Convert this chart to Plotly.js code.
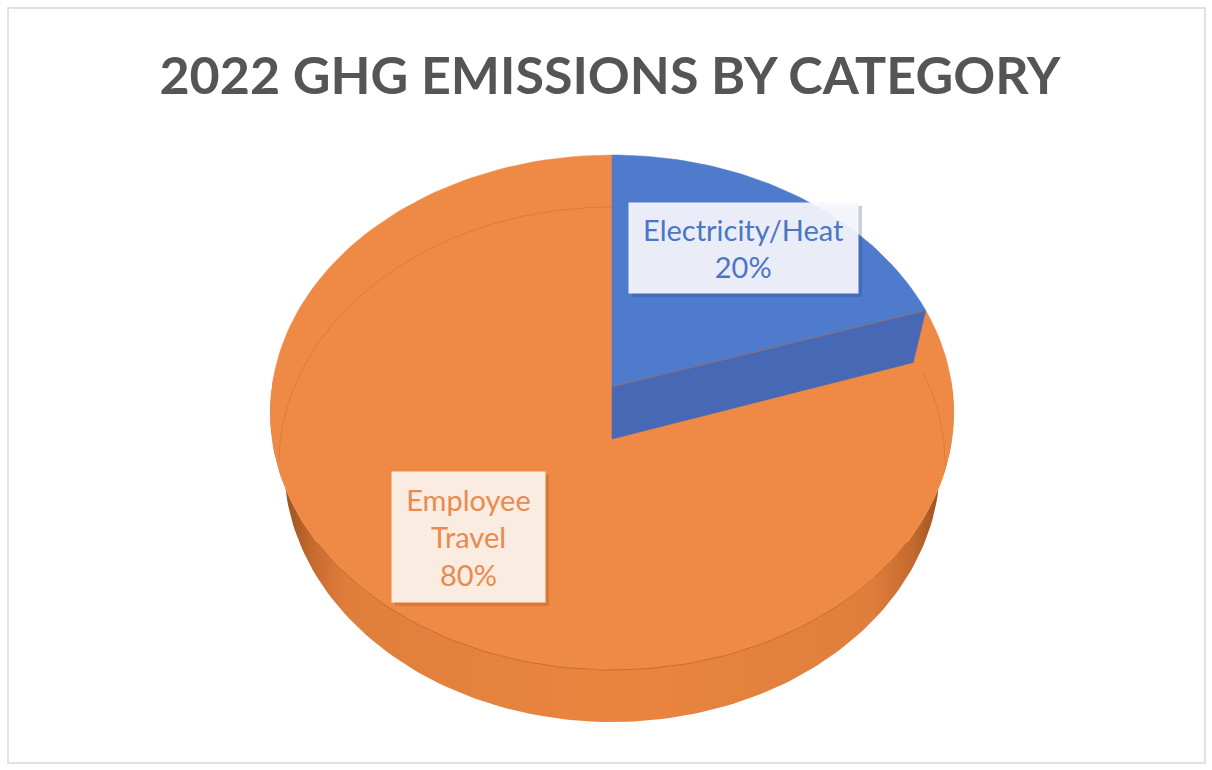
<!DOCTYPE html>
<html>
<head>
<meta charset="utf-8">
<script src="https://cdn.plot.ly/plotly-3.0.1.min.js"></script>
<style>html,body{margin:0;padding:0;background:#fff;}#chart{width:1212px;height:770px;}</style>
</head>
<body>
<div id="chart"></div>
<script>
// ---- data ----
const chartTitle = '2022 GHG EMISSIONS BY CATEGORY';
const categories = ['Electricity/Heat', 'Employee Travel'];
const values = [20, 80];

// ---- style / geometry (pixel-like axes) ----
const W = 1212, H = 770;
const CX = 612, CY = 387;      // projected centre of top face
const A = 340, B = 255, K = 0.099; // perspective ellipse parameters
const DEPTH = 52;              // thickness of the pie
const BOT_SHRINK = 0.96;
const topColors = ['#4E7BCB', '#EE8A46'];
const cutColors = ['#4768B4', '#D9773A'];
const textColors = ['#4A76C4', '#E98A4E'];
const boxColors = ['rgba(246,248,253,0.93)', 'rgba(253,244,238,0.93)'];

function proj(deg, bottom, shrink) {
  const t = deg * Math.PI / 180;
  const u = Math.sin(t), v = Math.cos(t);
  const w = 1 + K * v;
  const a = bottom ? A * (shrink || BOT_SHRINK) : A;
  return [CX + a * u / w, (bottom ? CY + DEPTH : CY) - B * v / w];
}
function arc(d0, d1, bottom, n, shrink) {
  const xs = [], ys = [];
  for (let i = 0; i <= n; i++) {
    const p = proj(d0 + (d1 - d0) * i / n, bottom, shrink);
    xs.push(p[0]); ys.push(p[1]);
  }
  return [xs, ys];
}

const total = values.reduce((s, v) => s + v, 0);
const angles = [];
let acc = 0;
values.forEach(v => { angles.push([acc / total * 360, (acc + v) / total * 360]); acc += v; });

const traces = [];
const base = {type: 'scatter', mode: 'lines', hoverinfo: 'skip', showlegend: false};

// side wall with horizontal shading
{
  const top = arc(88, 272, false, 140);
  const bot = arc(272, 88, true, 140);
  traces.push(Object.assign({}, base, {
    x: top[0].concat(bot[0]), y: top[1].concat(bot[1]),
    fill: 'toself', line: {width: 0},
    fillgradient: {
      type: 'horizontal',
      colorscale: [
        [0, '#7A3E14'], [0.02, '#9A5220'], [0.06, '#C46A2E'], [0.11, '#E07E3C'],
        [0.5, '#E9853F'],
        [0.88, '#E07E3C'], [0.94, '#C46A2E'], [0.98, '#9A5220'], [1, '#7A3E14']
      ]
    }
  }));
}

// orange top face (slice 2)
{
  const a = arc(angles[1][0], angles[1][1], false, 160);
  traces.push(Object.assign({}, base, {
    x: [CX].concat(a[0], [CX]), y: [CY].concat(a[1], [CY]),
    fill: 'toself', fillcolor: topColors[1], line: {color: topColors[1], width: 0.5}
  }));
}
// faint bevel line inside orange face
{
  const a1 = arc(265, 360, true, 60, 0.975);
  traces.push(Object.assign({}, base, {x: a1[0], y: a1[1], line: {color: 'rgba(190,95,35,0.35)', width: 1}}));
  const a2 = arc(angles[1][0] + 2, 96, true, 20, 0.975);
  traces.push(Object.assign({}, base, {x: a2[0], y: a2[1], line: {color: 'rgba(190,95,35,0.35)', width: 1}}));
}
// near edge of top face
{
  const a = arc(125, 235, false, 70);
  traces.push(Object.assign({}, base, {x: a[0], y: a[1], line: {color: 'rgba(170,80,28,0.6)', width: 1}}));
}
// cut face of blue slice
{
  const e = proj(angles[0][1], false), eb = proj(angles[0][1], true);
  traces.push(Object.assign({}, base, {
    x: [CX, e[0], eb[0], CX, CX], y: [CY, e[1], eb[1], CY + DEPTH, CY],
    fill: 'toself', fillcolor: cutColors[0], line: {color: cutColors[0], width: 0.5}
  }));
}
// blue top face
{
  const a = arc(angles[0][0], angles[0][1], false, 60);
  traces.push(Object.assign({}, base, {
    x: [CX].concat(a[0], [CX]), y: [CY].concat(a[1], [CY]),
    fill: 'toself', fillcolor: topColors[0], line: {color: topColors[0], width: 0.5}
  }));
  const e = proj(angles[0][1], false);
  traces.push(Object.assign({}, base, {x: [CX, e[0]], y: [CY, e[1]], line: {color: 'rgba(170,100,70,0.7)', width: 1}}));
}

const pct = values.map(v => Math.round(v / total * 100) + '%');
const labelBoxes = [
  {x: 743.5, y: 248, w: 229, h: 90},
  {x: 468.5, y: 537, w: 153, h: 130}
];
const labelText = [categories[0] + '<br>' + pct[0], 'Employee<br>Travel<br>' + pct[1]];
const annotations = labelBoxes.map((b, i) => ({
  x: b.x, y: b.y, xref: 'x', yref: 'y', showarrow: false,
  text: labelText[i], width: b.w, height: b.h, borderpad: 0,
  bgcolor: boxColors[i], align: 'center', valign: 'middle',
  font: {family: 'Lato, sans-serif', size: 29, color: textColors[i]}
}));
const shapes = [
  {type: 'rect', xref: 'x', yref: 'y', x0: 8, y0: 8, x1: 1205, y1: 763, line: {color: '#D9D9D9', width: 1.5}, layer: 'below'}
].concat(labelBoxes.map((b, i) => ({
  type: 'rect', xref: 'x', yref: 'y', layer: 'above',
  x0: b.x - b.w / 2 + 3, x1: b.x + b.w / 2 + 4, y0: b.y - b.h / 2 + 3, y1: b.y + b.h / 2 + 4,
  fillcolor: i === 0 ? 'rgba(40,60,120,0.25)' : 'rgba(150,70,20,0.22)', line: {width: 0}
})));

const layout = {
  width: W, height: H,
  margin: {l: 0, r: 0, t: 0, b: 0},
  paper_bgcolor: '#ffffff', plot_bgcolor: '#ffffff',
  title: {text: chartTitle, x: 610 / W, xanchor: 'center', y: 1 - 76 / H, yanchor: 'middle',
          font: {family: 'Lato, sans-serif', size: 52, color: '#555555', weight: 'bold'}},
  xaxis: {range: [0, W], visible: false, fixedrange: true},
  yaxis: {range: [H, 0], visible: false, fixedrange: true},
  annotations: annotations,
  shapes: shapes
};

Plotly.newPlot('chart', traces, layout, {displayModeBar: false, staticPlot: true});
</script>
</body>
</html>
